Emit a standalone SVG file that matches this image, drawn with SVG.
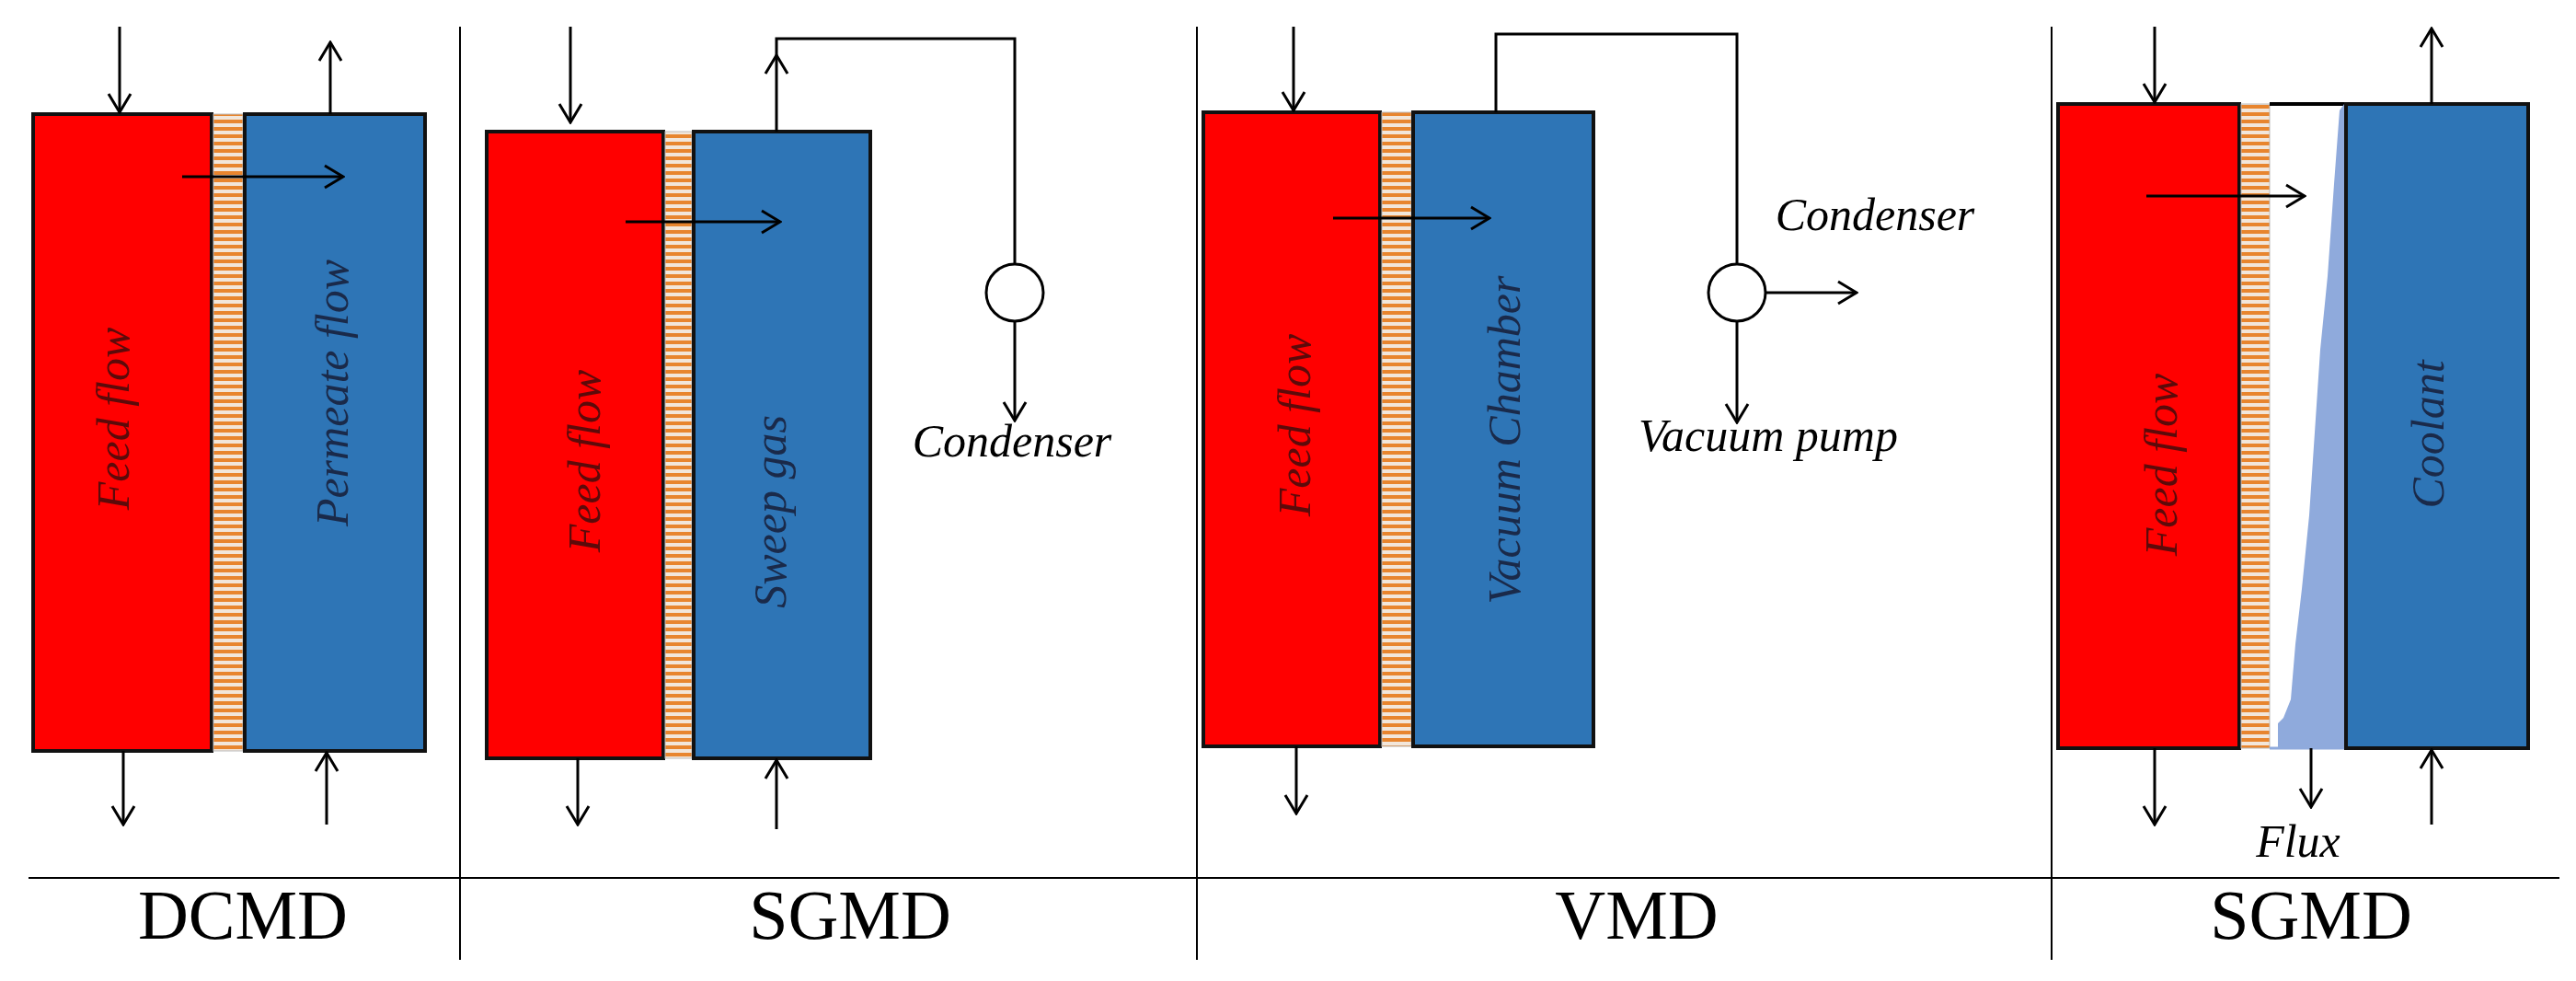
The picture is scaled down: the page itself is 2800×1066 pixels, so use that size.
<svg xmlns="http://www.w3.org/2000/svg" width="2800" height="1066" viewBox="0 0 2800 1066">
<style>
.feed{fill:#ff0000;stroke:#111;stroke-width:4}
.cool{fill:#2e75b6;stroke:#111;stroke-width:4}
.mem{fill:url(#stripes);stroke:#bbb;stroke-width:1}
.ln{fill:none;stroke:#000;stroke-width:3;marker-end:url(#ah)}
.pl{fill:none;stroke:#000;stroke-width:3}
.sep{stroke:#000;stroke-width:2}
.lab{font-family:"Liberation Serif",serif;font-style:italic;font-size:50px;text-anchor:middle}
.ttl{font-family:"Liberation Serif",serif;font-size:76px;text-anchor:middle}
.fr{fill:#5c0a0a}
.bl{fill:#1a2a4a}
</style>
<defs>
<pattern id="stripes" width="10" height="8" patternUnits="userSpaceOnUse">
<rect width="10" height="8" fill="#f2e6da"/>
<rect y="2" width="10" height="4" fill="#e8852e"/>
</pattern>
<marker id="ah" markerWidth="24" markerHeight="28" refX="22" refY="14" orient="auto" markerUnits="userSpaceOnUse" viewBox="0 0 24 28">
<path d="M2,2 L22,14 L2,26" fill="none" stroke="#000" stroke-width="3"/>
</marker>
</defs>
<g id="frame">
<line class="sep" x1="500" y1="29" x2="500" y2="1043"/>
<line class="sep" x1="1301" y1="29" x2="1301" y2="1043"/>
<line class="sep" x1="2230" y1="29" x2="2230" y2="1043"/>
<line class="sep" x1="31" y1="954" x2="2782" y2="954"/>
</g>
<g id="dcmd">
<rect class="feed" x="36" y="124" width="194" height="692"/>
<rect class="mem" x="232" y="124" width="32" height="692"/>
<rect class="cool" x="266" y="124" width="196" height="692"/>
<text class="lab fr" transform="translate(140,455) rotate(-90)">Feed flow</text>
<text class="lab bl" transform="translate(378,427) rotate(-90)">Permeate flow</text>
<text class="ttl" x="264" y="1020">DCMD</text>
</g>
<g id="sgmd1">
<rect class="feed" x="529" y="143" width="192" height="681"/>
<rect class="mem" x="723" y="143" width="29" height="681"/>
<rect class="cool" x="754" y="143" width="192" height="681"/>
<circle cx="1103" cy="318" r="31" fill="#fff" stroke="#000" stroke-width="3"/>
<text class="lab fr" transform="translate(652,501) rotate(-90)">Feed flow</text>
<text class="lab bl" transform="translate(854,556) rotate(-90)">Sweep gas</text>
<text class="lab" x="1100" y="496" fill="#000">Condenser</text>
<text class="ttl" x="924" y="1020">SGMD</text>
</g>
<g id="vmd">
<rect class="feed" x="1308" y="122" width="192" height="689"/>
<rect class="mem" x="1502" y="122" width="32" height="689"/>
<rect class="cool" x="1536" y="122" width="196" height="689"/>
<circle cx="1888" cy="318" r="31" fill="#fff" stroke="#000" stroke-width="3"/>
<text class="lab fr" transform="translate(1424,462) rotate(-90)">Feed flow</text>
<text class="lab bl" transform="translate(1652,478) rotate(-90)">Vacuum Chamber</text>
<text class="lab" x="2038" y="250" fill="#000">Condenser</text>
<text class="lab" x="1922" y="490" fill="#000">Vacuum pump</text>
<text class="ttl" x="1779" y="1020">VMD</text>
</g>
<g id="agmd">
<rect class="feed" x="2237" y="113" width="197" height="700"/>
<rect class="mem" x="2436" y="113" width="31" height="700"/>
<line x1="2467" y1="113" x2="2550" y2="113" stroke="#000" stroke-width="4"/>
<path d="M2476,813 L2476,786 L2482,780 L2490,760 L2495,700 L2502,640 L2510,560 L2516,470 L2522,380 L2530,300 L2537,200 L2543,120 L2548,113 L2550,113 L2550,813 Z" fill="#8faadc"/>
<line x1="2467" y1="813" x2="2550" y2="813" stroke="#8faadc" stroke-width="3"/>
<rect class="cool" x="2550" y="113" width="198" height="700"/>
<text class="lab fr" transform="translate(2366,505) rotate(-90)">Feed flow</text>
<text class="lab bl" transform="translate(2656,472) rotate(-90)">Coolant</text>
<text class="lab" x="2498" y="931" fill="#000">Flux</text>
<text class="ttl" x="2512" y="1020">SGMD</text>
</g>
<g id="connectors">
<line class="ln" x1="130" y1="29" x2="130" y2="122"/>
<line class="ln" x1="359" y1="124" x2="359" y2="46"/>
<line class="ln" x1="198" y1="192" x2="373" y2="192"/>
<line class="ln" x1="134" y1="816" x2="134" y2="896"/>
<line class="ln" x1="355" y1="896" x2="355" y2="818"/>
<line class="ln" x1="620" y1="29" x2="620" y2="133"/>
<line class="ln" x1="844" y1="143" x2="844" y2="60"/>
<polyline class="pl" points="844,60 844,42 1103,42 1103,287"/>
<line class="ln" x1="1103" y1="349" x2="1103" y2="457"/>
<line class="ln" x1="680" y1="241" x2="848" y2="241"/>
<line class="ln" x1="628" y1="824" x2="628" y2="896"/>
<line class="ln" x1="844" y1="901" x2="844" y2="826"/>
<line class="ln" x1="1406" y1="29" x2="1406" y2="120"/>
<polyline class="pl" points="1626,122 1626,37 1888,37 1888,287"/>
<line class="ln" x1="1919" y1="318" x2="2018" y2="318"/>
<line class="ln" x1="1888" y1="349" x2="1888" y2="459"/>
<line class="ln" x1="1449" y1="237" x2="1619" y2="237"/>
<line class="ln" x1="1409" y1="811" x2="1409" y2="884"/>
<line class="ln" x1="2342" y1="29" x2="2342" y2="111"/>
<line class="ln" x1="2643" y1="113" x2="2643" y2="31"/>
<line class="ln" x1="2333" y1="213" x2="2505" y2="213"/>
<line class="ln" x1="2342" y1="813" x2="2342" y2="896"/>
<line class="ln" x1="2512" y1="813" x2="2512" y2="877"/>
<line class="ln" x1="2643" y1="896" x2="2643" y2="815"/>
</g>
</svg>
